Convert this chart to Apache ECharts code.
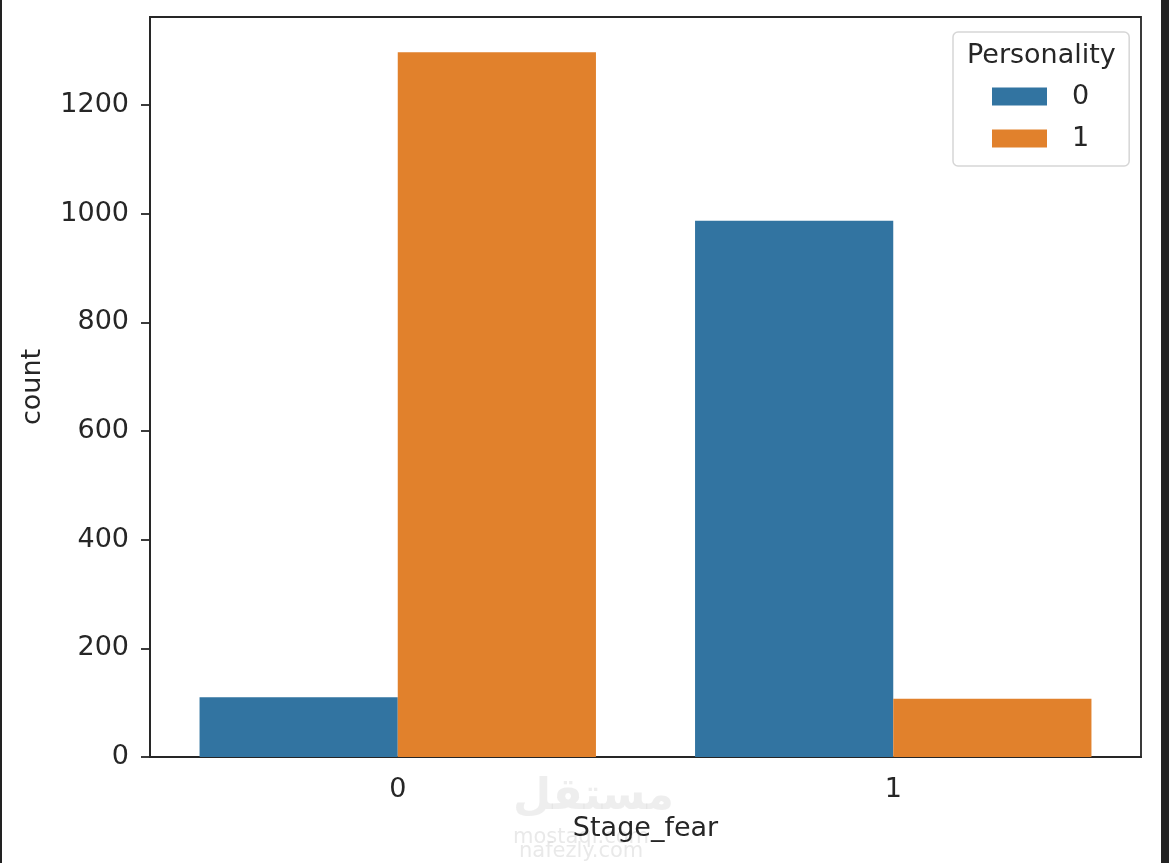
<!DOCTYPE html>
<html>
<head>
<meta charset="utf-8">
<script src="https://cdn.jsdelivr.net/npm/echarts@6/dist/echarts.min.js"></script>
<style>
html,body{margin:0;padding:0;background:#fff;}
#chart{width:1169px;height:863px;}
</style>
</head>
<body>
<div id="chart"></div>
<script>
const categories = ['0', '1'];
const seriesNames = ['0', '1'];
const personality0 = [110, 987];
const personality1 = [1297, 107];
const yTicks = [0, 200, 400, 600, 800, 1000, 1200];

const FONT = 'DejaVu Sans';
const INK = '#262626';
const FS = 27;

const chart = echarts.init(document.getElementById('chart'));
chart.setOption({
  backgroundColor: '#ffffff',
  animation: false,
  textStyle: { fontFamily: FONT, color: INK },
  title: {
    text: 'Personality',
    left: 962,
    top: 37,
    textStyle: { fontFamily: FONT, fontSize: FS, fontWeight: 'normal', color: INK }
  },
  legend: {
    orient: 'vertical',
    left: 953,
    top: 32,
    padding: [51, 40, 14, 39],
    borderColor: '#d6d6d6',
    borderWidth: 1.5,
    borderRadius: 5,
    backgroundColor: '#ffffff',
    icon: 'rect',
    itemWidth: 55,
    itemHeight: 18,
    itemGap: 15,
    textStyle: { fontFamily: FONT, fontSize: FS, color: INK, padding: [0, 0, 0, 20] },
    data: seriesNames
  },
  grid: {
    left: 150, right: 28, top: 17, bottom: 106,
    show: true, borderColor: INK, borderWidth: 1.8, backgroundColor: 'transparent'
  },
  xAxis: {
    type: 'category',
    data: categories,
    name: 'Stage_fear',
    nameLocation: 'middle',
    nameGap: 58,
    nameTextStyle: { fontFamily: FONT, fontSize: FS, color: INK },
    axisLine: { lineStyle: { color: INK, width: 1.8 } },
    axisTick: { alignWithLabel: true, length: 9, lineStyle: { color: INK, width: 1.8 } },
    axisLabel: { margin: 19, fontFamily: FONT, fontSize: FS, color: INK },
    splitLine: { show: false }
  },
  yAxis: {
    type: 'value',
    min: 0,
    max: 1362,
    interval: 200,
    name: 'count',
    nameLocation: 'middle',
    nameGap: 104,
    nameTextStyle: { fontFamily: FONT, fontSize: FS, color: INK },
    axisLine: { show: true, lineStyle: { color: INK, width: 1.8 } },
    axisTick: { show: true, length: 9, customValues: yTicks, lineStyle: { color: INK, width: 1.8 } },
    axisLabel: {
      margin: 21, fontFamily: FONT, fontSize: FS, color: INK, customValues: yTicks,
      formatter: function (v) { return String(v); }
    },
    splitLine: { show: false }
  },
  series: [
    {
      name: seriesNames[0], type: 'bar', data: personality0,
      barGap: '0%', barCategoryGap: '20%',
      itemStyle: { color: '#3274a1' }
    },
    {
      name: seriesNames[1], type: 'bar', data: personality1,
      barGap: '0%', barCategoryGap: '20%',
      itemStyle: { color: '#e1812c' }
    }
  ],
  graphic: [
    { type: 'rect', left: 0, top: 0, shape: { width: 2, height: 863 }, style: { fill: '#222' }, z: 100 },
    { type: 'rect', left: 1161, top: 0, shape: { width: 8, height: 863 }, style: { fill: '#232323' }, z: 100 },
    { type: 'text', left: 513, top: 776, z: -1, style: { text: 'مستقل', fontFamily: 'DejaVu Sans', fontSize: 44, fontWeight: 'bold', fill: 'rgba(200,200,200,0.3)' } },
    { type: 'text', left: 513, top: 827, z: -1, style: { text: 'mostaql.com', fontFamily: 'DejaVu Sans', fontSize: 21, fill: 'rgba(200,200,200,0.4)' } },
    { type: 'text', left: 519, top: 841, z: -1, style: { text: 'nafezly.com', fontFamily: 'DejaVu Sans', fontSize: 21, fill: 'rgba(200,200,200,0.4)' } }
  ]
});
</script>
</body>
</html>
